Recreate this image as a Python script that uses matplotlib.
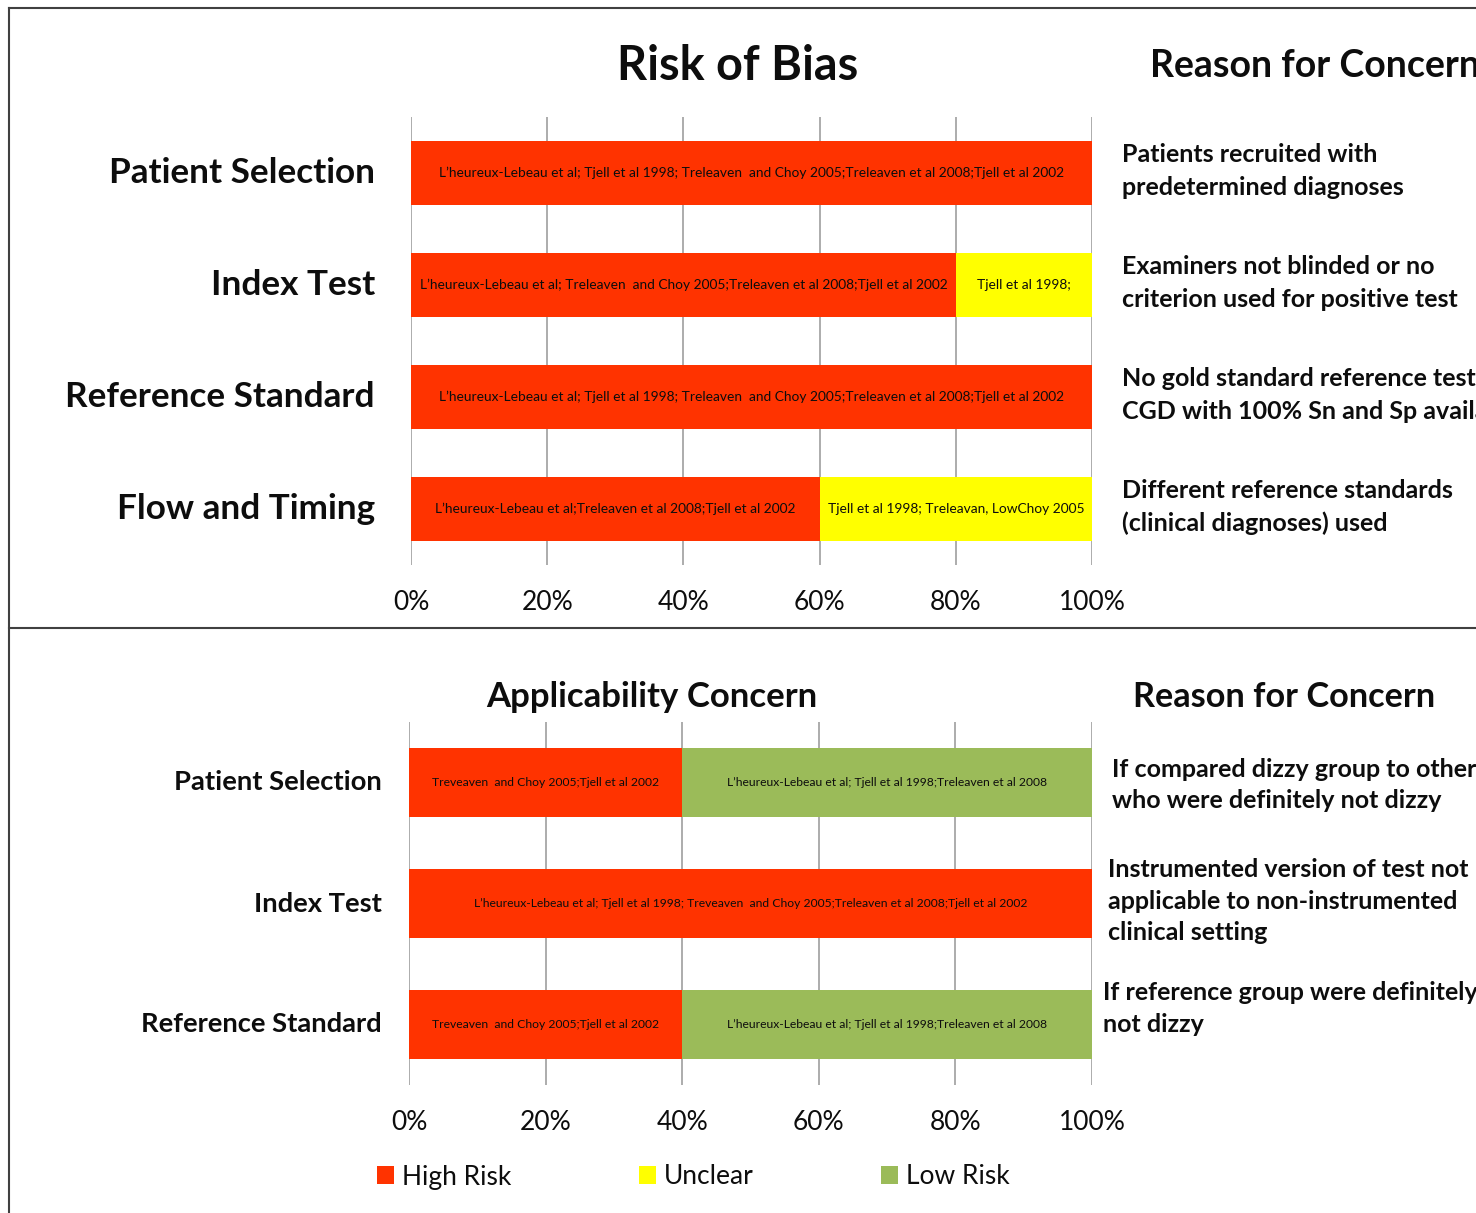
import matplotlib
matplotlib.use("Agg")
import matplotlib.pyplot as plt
from matplotlib.lines import Line2D
import numpy as np

plt.rcParams['font.family'] = ['Lato', 'DejaVu Sans']

W, H = 1476, 1213
DPI = 100

# ---------------- data ----------------
rob_domains = ["Patient Selection", "Index Test", "Reference Standard", "Flow and Timing"]
rob_high = [100, 80, 100, 60]
rob_unclear = [0, 20, 0, 40]
rob_high_text = [
    "L\u2019heureux-Lebeau et al; Tjell et al 1998; Treleaven  and Choy 2005;Treleaven et al 2008;Tjell et al 2002",
    "L\u2019heureux-Lebeau et al; Treleaven  and Choy 2005;Treleaven et al 2008;Tjell et al 2002",
    "L\u2019heureux-Lebeau et al; Tjell et al 1998; Treleaven  and Choy 2005;Treleaven et al 2008;Tjell et al 2002",
    "L\u2019heureux-Lebeau et al;Treleaven et al 2008;Tjell et al 2002",
]
rob_unclear_text = ["", "Tjell et al 1998;", "", "Tjell et al 1998; Treleavan, LowChoy 2005"]
rob_reasons = [
    "Patients recruited with\npredetermined diagnoses",
    "Examiners not blinded or no\ncriterion used for positive test",
    "No gold standard reference test\nCGD with 100% Sn and Sp available",
    "Different reference standards\n(clinical diagnoses) used",
]

app_domains = ["Patient Selection", "Index Test", "Reference Standard"]
app_high = [40, 100, 40]
app_low = [60, 0, 60]
app_high_text = [
    "Treveaven  and Choy 2005;Tjell et al 2002",
    "L\u2019heureux-Lebeau et al; Tjell et al 1998; Treveaven  and Choy 2005;Treleaven et al 2008;Tjell et al 2002",
    "Treveaven  and Choy 2005;Tjell et al 2002",
]
app_low_text = [
    "L\u2019heureux-Lebeau et al; Tjell et al 1998;Treleaven et al 2008",
    "",
    "L\u2019heureux-Lebeau et al; Tjell et al 1998;Treleaven et al 2008",
]
app_reasons = [
    "If compared dizzy group to others\nwho were definitely not dizzy",
    "Instrumented version of test not\napplicable to non-instrumented\nclinical setting",
    "If reference group were definitely\nnot dizzy",
]
xticks = [0, 20, 40, 60, 80, 100]
xticklabels = ["0%", "20%", "40%", "60%", "80%", "100%"]

C_HIGH = "#FF3300"
C_UNCL = "#FFFF00"
C_LOW = "#9BBB59"
TXT = "#0d0d0d"
GRID = "#A6A6A6"

fig = plt.figure(figsize=(W / DPI, H / DPI), dpi=DPI)

def fx(px):
    return px / W

def fy(py):
    return 1 - py / H

# border lines
for (x0, y0, x1, y1) in [(9, 8, 1476, 8), (9, 8, 9, 1213), (9, 628, 1476, 628)]:
    fig.add_artist(Line2D([fx(x0), fx(x1)], [fy(y0), fy(y1)], color="#404040", lw=1.5))

def style_axes(ax, n):
    ax.set_xlim(0, 100)
    ax.set_ylim(n - 0.5, -0.5)
    for s in ax.spines.values():
        s.set_visible(False)
    ax.set_xticks(xticks)
    ax.set_xticklabels(xticklabels, fontsize=19, color=TXT)
    ax.tick_params(axis='x', length=0, pad=18)
    ax.set_yticks([])
    for x in xticks:
        ax.axvline(x, color=GRID, lw=1.3, zorder=0)

# ---------------- top panel ----------------
ax1 = fig.add_axes([fx(411), fy(565), fx(1092) - fx(411), fy(117) - fy(565)])
y1 = np.arange(len(rob_domains))
b1 = ax1.barh(y1, rob_high, height=0.57, color=C_HIGH, label="High Risk", zorder=2)
b2 = ax1.barh(y1, rob_unclear, left=rob_high, height=0.57, color=C_UNCL, label="Unclear", zorder=2)
style_axes(ax1, len(rob_domains))
for i in range(len(rob_domains)):
    if rob_high[i] > 0:
        ax1.text(rob_high[i] / 2, i, rob_high_text[i], ha='center', va='center', fontsize=9.9, color=TXT, zorder=3)
    if rob_unclear[i] > 0:
        ax1.text(rob_high[i] + rob_unclear[i] / 2, i, rob_unclear_text[i], ha='center', va='center',
                 fontsize=9.9, color=TXT, zorder=3)
    ax1.text(-5.3, i, rob_domains[i], ha='right', va='center', fontsize=25.3, fontweight='bold', color=TXT)
    ax1.text(104.4, i - 0.02, rob_reasons[i], ha='left', va='center', fontsize=18, fontweight='bold',
             color=TXT, linespacing=1.5, clip_on=False)

fig.text(fx(738), fy(66), "Risk of Bias", ha='center', va='center', fontsize=33.7, fontweight='bold', color=TXT)
fig.text(fx(1150), fy(66), "Reason for Concern", ha='left', va='center', fontsize=27, fontweight='bold', color=TXT)

# ---------------- bottom panel ----------------
ax2 = fig.add_axes([fx(409), fy(1085), fx(1092) - fx(409), fy(722) - fy(1085)])
y2 = np.arange(len(app_domains))
ax2.barh(y2, app_high, height=0.57, color=C_HIGH, zorder=2)
b3 = ax2.barh(y2, app_low, left=app_high, height=0.57, color=C_LOW, label="Low Risk", zorder=2)
style_axes(ax2, len(app_domains))
reason_x = [1112, 1108, 1103]
reason_dy = [0.02, -0.02, -0.13]
for i in range(len(app_domains)):
    if app_high[i] > 0:
        ax2.text(app_high[i] / 2, i, app_high_text[i], ha='center', va='center', fontsize=8.75,
                 color=TXT, zorder=3)
    if app_low[i] > 0:
        ax2.text(app_high[i] + app_low[i] / 2, i, app_low_text[i], ha='center', va='center', fontsize=8.75,
                 color=TXT, zorder=3)
    ax2.text(-4.0, i, app_domains[i], ha='right', va='center', fontsize=19.7, fontweight='bold', color=TXT)
    xr = (reason_x[i] - 409) / (1092 - 409) * 100
    ax2.text(xr, i + reason_dy[i], app_reasons[i], ha='left', va='center', fontsize=18, fontweight='bold',
             color=TXT, linespacing=1.45, clip_on=False)

fig.text(fx(652), fy(697), "Applicability Concern", ha='center', va='center', fontsize=25, fontweight='bold', color=TXT)
fig.text(fx(1133), fy(697), "Reason for Concern", ha='left', va='center', fontsize=24.7, fontweight='bold', color=TXT)

# legend
leg = fig.legend(handles=[b1, b2, b3], labels=["High Risk", "Unclear", "Low Risk"], ncol=3,
                 loc='center left', bbox_to_anchor=(fx(377), fy(1177)), frameon=False,
                 fontsize=19, handlelength=0.65, handleheight=0.65, handletextpad=0.3,
                 columnspacing=4.82, borderpad=0, borderaxespad=0)
for t in leg.get_texts():
    t.set_color(TXT)

fig.savefig("out.png", dpi=DPI)
